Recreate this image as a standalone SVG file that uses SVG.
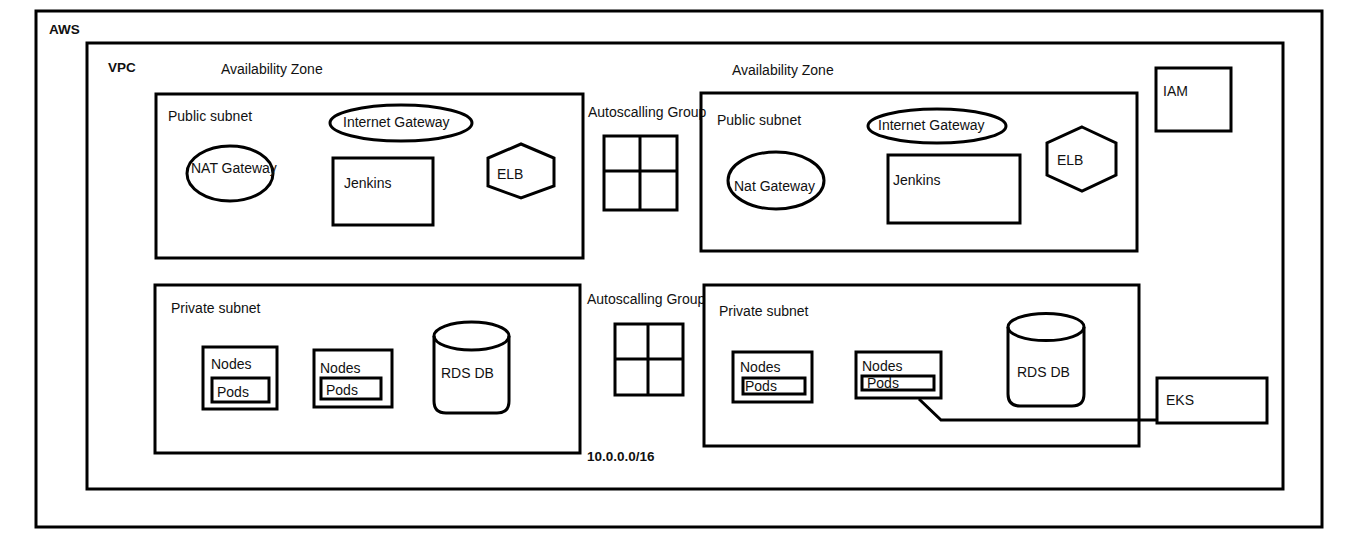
<svg xmlns="http://www.w3.org/2000/svg" width="1347" height="544" viewBox="0 0 1347 544">
<style>
.box{fill:none;stroke:#000;stroke-width:3}
.t{font-family:"Liberation Sans",Arial,sans-serif;font-size:14px;fill:#111}
.b{font-weight:bold;font-size:13.5px}
</style>
<rect width="1347" height="544" fill="#fff"/>
<g id="aws"><rect class="box" x="36" y="11" width="1286" height="516"/><text class="t b" x="49" y="34">AWS</text></g>
<g id="vpc"><rect class="box" x="87" y="43" width="1196" height="446"/><text class="t b" x="108" y="72">VPC</text><text class="t b" x="587" y="461">10.0.0.0/16</text></g>
<g id="az1"><text class="t" x="221" y="74">Availability Zone</text></g>
<g id="az2"><text class="t" x="732" y="75">Availability Zone</text></g>
<g id="pub1"><rect class="box" x="156" y="94" width="427" height="164"/><text class="t" x="168" y="121">Public subnet</text></g>
<g id="igw1"><ellipse class="box" cx="401" cy="123" rx="71" ry="18"/><text class="t" x="343" y="127">Internet Gateway</text></g>
<g id="nat1"><ellipse class="box" cx="230" cy="173.5" rx="43" ry="27.5"/><text class="t" x="191" y="173">NAT Gateway</text></g>
<g id="jenkins1"><rect class="box" x="333" y="158" width="100" height="67"/><text class="t" x="344" y="188">Jenkins</text></g>
<g id="elb1"><polygon class="box" points="521,144 554,158 554,186 521,198 488,186 488,158"/><text class="t" x="497" y="179">ELB</text></g>
<g id="asg1"><text class="t" x="588" y="117">Autoscalling Group</text><rect class="box" x="604" y="136" width="73" height="74"/><line class="box" x1="640" y1="136" x2="640" y2="210"/><line class="box" x1="604" y1="171" x2="677" y2="171"/></g>
<g id="pub2"><rect class="box" x="701" y="93" width="436" height="158"/><text class="t" x="717" y="125">Public subnet</text></g>
<g id="igw2"><ellipse class="box" cx="937" cy="126" rx="69" ry="17"/><text class="t" x="878" y="130">Internet Gateway</text></g>
<g id="nat2"><ellipse class="box" cx="776" cy="180.5" rx="48" ry="28.5"/><text class="t" x="734" y="191">Nat Gateway</text></g>
<g id="jenkins2"><rect class="box" x="888" y="155" width="132" height="68"/><text class="t" x="893" y="185">Jenkins</text></g>
<g id="elb2"><polygon class="box" points="1082,127 1116,143 1116,175 1082,191 1047,175 1047,143"/><text class="t" x="1057" y="165">ELB</text></g>
<g id="iam"><rect class="box" x="1156" y="68" width="75" height="63"/><text class="t" x="1163" y="96">IAM</text></g>
<g id="priv1"><rect class="box" x="155" y="285" width="425" height="168"/><text class="t" x="171" y="313">Private subnet</text></g>
<g id="nodes1"><rect class="box" x="203" y="347" width="74" height="62"/><text class="t" x="211" y="369">Nodes</text><rect class="box" x="212" y="378" width="57" height="24"/><text class="t" x="217" y="397">Pods</text></g>
<g id="nodes2"><rect class="box" x="314" y="350" width="78" height="57"/><text class="t" x="320" y="373">Nodes</text><rect class="box" x="321" y="378" width="60" height="21"/><text class="t" x="326" y="395">Pods</text></g>
<g id="rds1"><path class="box" d="M434,336 V401 Q434,413 446,413 H497 Q509,413 509,401 V336"/><ellipse class="box" cx="471.5" cy="336" rx="37.5" ry="14"/><text class="t" x="441" y="378">RDS DB</text></g>
<g id="asg2"><text class="t" x="587" y="304">Autoscalling Group</text><rect class="box" x="615" y="324" width="68" height="71"/><line class="box" x1="648" y1="324" x2="648" y2="395"/><line class="box" x1="615" y1="359" x2="683" y2="359"/></g>
<g id="priv2"><rect class="box" x="704" y="285" width="435" height="161"/><text class="t" x="719" y="316">Private subnet</text></g>
<g id="nodes3"><rect class="box" x="733" y="352" width="79" height="50"/><text class="t" x="740" y="372">Nodes</text><rect class="box" x="743" y="378" width="62" height="16"/><text class="t" x="745" y="391">Pods</text></g>
<g id="nodes4"><rect class="box" x="856" y="352" width="85" height="46"/><text class="t" x="862" y="371">Nodes</text><rect class="box" x="862" y="376" width="72" height="14"/><text class="t" x="867" y="388">Pods</text></g>
<g id="rds2"><path class="box" d="M1008,327 V394 Q1008,406 1020,406 H1072 Q1084,406 1084,394 V327"/><ellipse class="box" cx="1046" cy="327" rx="38" ry="13.5"/><text class="t" x="1017" y="377">RDS DB</text></g>
<g id="eks"><rect class="box" x="1157" y="378" width="110" height="45"/><text class="t" x="1166" y="405">EKS</text></g>
<g id="connectors"><polyline class="box" points="919,399 941,420 1156,420"/></g>
</svg>
